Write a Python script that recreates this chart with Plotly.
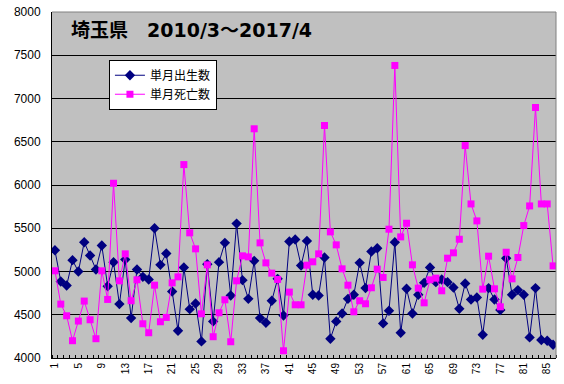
import plotly.graph_objects as go

months = list(range(1, 87))
births = [5245,4885,4838,5131,5000,5339,5185,5023,5300,4830,
          5108,4623,5139,4461,5023,4938,4908,5500,5077,5208,
          4769,4315,5046,4565,4630,4192,5085,4423,5108,5331,
          4723,5554,4900,4684,5123,4461,4407,4661,4915,4492,
          5346,5370,5069,5354,4731,4723,5162,4223,4423,4515,
          4684,4731,5100,4808,5231,5269,4400,4546,5339,4292,
          4800,4515,4731,4869,5046,4877,4908,4877,4815,4569,
          4861,4677,4700,4269,4808,4677,4554,5154,4731,4785,
          4731,4238,4808,4208,4200,4154]
deaths = [5008,4623,4488,4200,4427,4658,4442,4223,5008,4677,
          6020,4892,5204,4662,4904,4396,4292,4842,4419,4469,
          4869,4938,6236,5447,5262,4511,5077,4246,4523,4673,
          4188,4892,5181,5169,6650,5331,5100,4981,4908,4084,
          4762,4615,4615,5073,5112,5204,6688,5458,5308,5031,
          4842,4534,4662,4627,4812,5027,4931,5489,7382,5400,
          5558,5077,4808,4638,4904,4923,4777,5154,5216,5373,
          6456,5781,5585,4796,5177,4800,4592,5223,4915,5162,
          5531,5758,6896,5781,5781,5065]
x_tickvals = list(range(1, 87, 4))
x_ticktext = [str(v) for v in x_tickvals]
y_tickvals = list(range(4000, 8001, 500))
title_text = "埼玉県　2010/3～2017/4"
name_births = "単月出生数"
name_deaths = "単月死亡数"

fig = go.Figure()
fig.add_trace(go.Scatter(
    x=months, y=births, name=name_births, mode="lines+markers",
    line=dict(color="#000080", width=1),
    marker=dict(symbol="diamond", size=8, color="#000080"),
))
fig.add_trace(go.Scatter(
    x=months, y=deaths, name=name_deaths, mode="lines+markers",
    line=dict(color="#FF00FF", width=1),
    marker=dict(symbol="square", size=7, color="#FF00FF"),
))

fig.update_layout(
    width=564, height=384,
    margin=dict(l=52, r=8, t=12, b=26),
    paper_bgcolor="white", plot_bgcolor="#C0C0C0",
    font=dict(family="Arial, Liberation Sans, Noto Sans CJK JP", size=12, color="black"),
    showlegend=True,
    legend=dict(
        x=0.113, y=0.862, xanchor="left", yanchor="top",
        bgcolor="white", bordercolor="black", borderwidth=1,
        font=dict(family="Noto Sans CJK JP", size=12, color="black"),
        itemwidth=30, tracegroupgap=0,
    ),
    xaxis=dict(
        range=[0.5, 86.5], tickmode="array", tickvals=x_tickvals, ticktext=x_ticktext,
        tickangle=-90, tickfont=dict(size=10, family="Arial, Liberation Sans"),
        showgrid=False, zeroline=False, showline=True, linecolor="black", linewidth=1,
        ticks="", automargin=False,
        minor=dict(ticks="inside", tick0=0.5, dtick=1, ticklen=3, tickcolor="black", showgrid=False),
    ),
    yaxis=dict(
        range=[4000, 8000], tickmode="array", tickvals=y_tickvals,
        showgrid=True, gridcolor="black", gridwidth=1, zeroline=False,
        showline=True, linecolor="black", linewidth=1, ticks="", automargin=False,
        ticklabelstandoff=8,
        tickfont=dict(size=12, family="Arial, Liberation Sans"),
    ),
    shapes=[
        dict(type="line", xref="paper", yref="paper", x0=0, x1=1, y0=1, y1=1,
             line=dict(color="#808080", width=1), layer="above"),
        dict(type="line", xref="paper", yref="paper", x0=1, x1=1, y0=0, y1=1,
             line=dict(color="#808080", width=1), layer="above"),
    ],
    annotations=[
        dict(text="<b>" + title_text + "</b>", xref="paper", yref="paper",
             x=0.034, y=0.948, xanchor="left", yanchor="middle", showarrow=False,
             font=dict(family="DejaVu Sans, Noto Sans CJK JP", size=19, color="black")),
    ],
)

fig.write_html("out.html", config={"displayModeBar": False},
               post_script="document.body.style.margin='0';")
